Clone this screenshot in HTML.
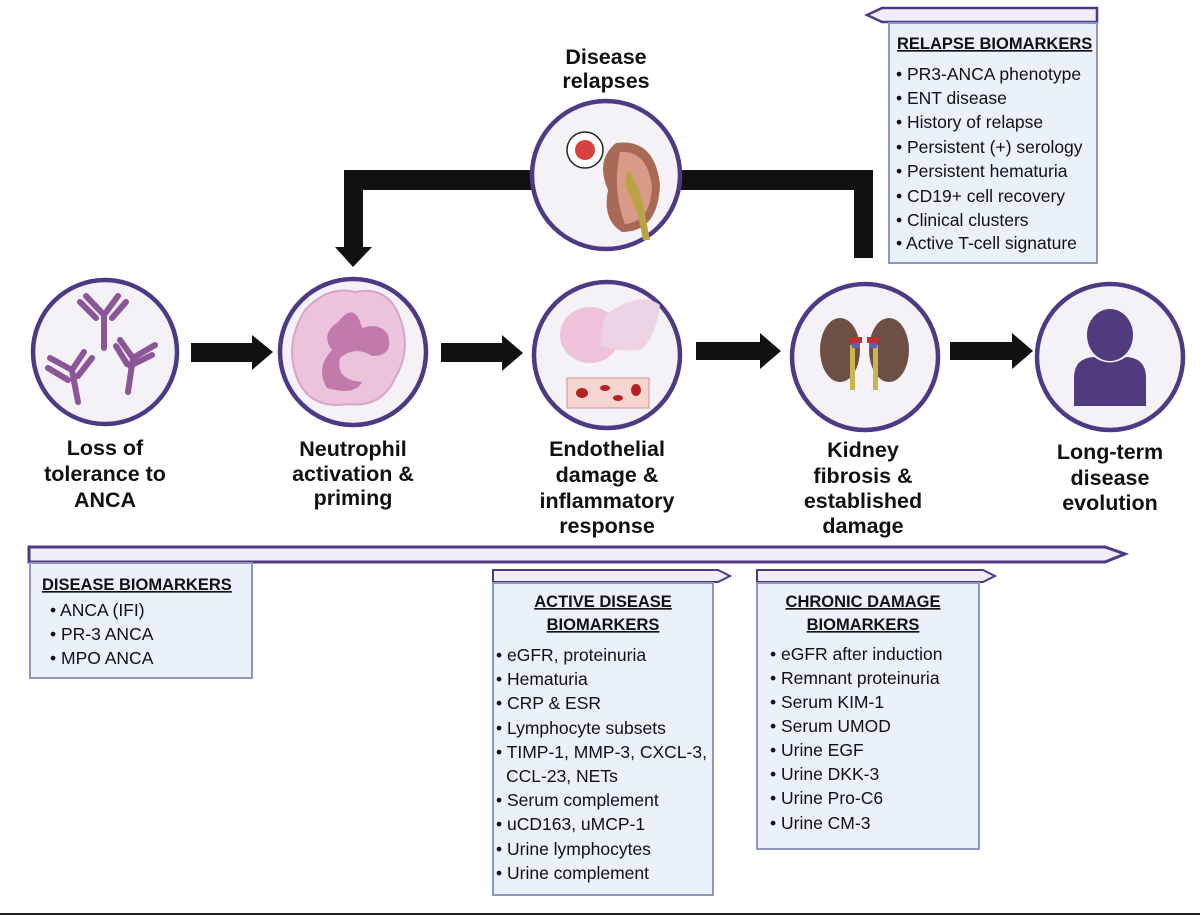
<!DOCTYPE html>
<html><head><meta charset="utf-8"><style>
html,body{margin:0;padding:0;background:#fff;}
svg{display:block;}
text{font-family:"Liberation Sans",sans-serif;}
.lbl{font-size:21.5px;font-weight:bold;fill:#111;text-anchor:middle;}
.t{font-size:17.5px;fill:#111;}
.h{font-size:16.5px;font-weight:bold;fill:#111;text-decoration:underline;}
</style></head><body>
<svg width="1200" height="916" viewBox="0 0 1200 916" xmlns="http://www.w3.org/2000/svg">
<rect width="1200" height="916" fill="#fff"/>
<!-- feedback loop -->
<g fill="#111">
<rect x="344" y="170" width="190" height="20"/>
<rect x="344" y="170" width="19" height="80"/>
<polygon points="335,247 372,247 353,267"/>
<rect x="679" y="170" width="194" height="20"/>
<rect x="854" y="170" width="19" height="88"/>
</g>
<!-- forward arrows -->
<g fill="#111">
<polygon points="191,343 252,343 252,335 273,352 252,370 252,362 191,362"/>
<polygon points="441,343 502,343 502,335 523,353 502,371 502,362 441,362"/>
<polygon points="696,342 760,342 760,333 781,351 760,369 760,360 696,360"/>
<polygon points="950,342 1012,342 1012,333 1033,351 1012,369 1012,360 950,360"/>
</g>
<!-- circles -->
<g stroke="#4e3a84" stroke-width="4.5" fill="#f5f2f7">
<circle cx="105" cy="352" r="72"/>
<circle cx="353" cy="352" r="73"/>
<circle cx="607" cy="355" r="73"/>
<circle cx="865" cy="357" r="73"/>
<circle cx="1110" cy="357" r="73"/>
<circle cx="606" cy="175" r="74"/>
</g>
<!-- antibodies -->
<g stroke="#8c5597" stroke-width="6" stroke-linecap="round" fill="none">
<path d="M104 348 V315 M104 315 L86 296 M96 318 L80 302 M104 315 L118 296 M112 318 L126 302"/>
<path d="M78 402 L72 370 M72 370 L50 358 M68 380 L48 368 M72 370 L84 352 M78 376 L92 358"/>
<path d="M128 392 L133 358 M133 358 L120 340 M127 364 L116 346 M133 358 L155 345 M130 366 L152 355"/>
</g>
<!-- neutrophil -->
<path d="M305 310 Q328 285 355 292 Q388 285 400 318 Q412 350 395 378 Q382 408 348 404 Q310 410 297 378 Q284 344 305 310Z" fill="#ebc3dd" stroke="#d8a5c8" stroke-width="2"/>
<path d="M338 322 Q355 300 362 328 Q380 322 388 335 Q394 356 372 356 Q355 345 340 358 Q335 380 362 382 Q355 396 327 388 Q315 368 332 350 Q320 334 338 322Z" fill="#c27aaa"/>
<!-- endothelial -->
<rect x="567" y="378" width="82" height="30" fill="#f6d4d0" stroke="#d09090"/>
<ellipse cx="582" cy="393" rx="6" ry="5" fill="#b52020"/><ellipse cx="605" cy="388" rx="5" ry="3" fill="#b52020"/><ellipse cx="618" cy="398" rx="5" ry="3" fill="#b52020"/><ellipse cx="636" cy="390" rx="5" ry="6" fill="#b52020"/>
<ellipse cx="590" cy="335" rx="30" ry="28" fill="#eec2d8"/>
<path d="M605 315 Q640 290 660 305 Q655 340 640 350 Q615 352 600 345Z" fill="#ecd3e4"/>
<!-- kidneys -->
<ellipse cx="840" cy="350" rx="20" ry="32" fill="#6e4f45"/>
<ellipse cx="889" cy="350" rx="20" ry="32" fill="#6e4f45"/>
<rect x="850" y="345" width="5" height="45" fill="#c9b54d"/><rect x="873" y="345" width="5" height="45" fill="#c9b54d"/>
<rect x="850" y="337" width="12" height="6" fill="#c03030"/><rect x="867" y="337" width="12" height="6" fill="#c03030"/>
<rect x="852" y="343" width="8" height="5" fill="#6060b0"/><rect x="869" y="343" width="8" height="5" fill="#6060b0"/>
<!-- person -->
<ellipse cx="1110" cy="335" rx="23" ry="26" fill="#503a80"/>
<path d="M1074 406 V378 Q1074 358 1094 357 Q1110 368 1126 357 Q1146 358 1146 378 V406Z" fill="#503a80"/>
<!-- relapse kidney -->
<path d="M616 143 Q655 138 660 185 Q658 232 622 232 Q602 220 608 190 Q595 160 616 143Z" fill="#a86a55"/>
<path d="M620 152 Q648 150 652 188 Q650 222 625 224 Q612 190 620 152Z" fill="#d99a88"/>
<path d="M628 170 Q640 185 645 215 L650 240 L643 240 L638 215 Q630 195 625 185Z" fill="#b8a445"/>
<circle cx="585" cy="150" r="18" fill="#fff" stroke="#222" stroke-width="1.5"/>
<circle cx="585" cy="150" r="10" fill="#d94040"/>
<!-- labels -->
<text class="lbl"><tspan x="606" y="64">Disease</tspan><tspan x="606" y="88">relapses</tspan></text>
<text class="lbl"><tspan x="105" y="455">Loss of</tspan><tspan x="105" y="481">tolerance to</tspan><tspan x="105" y="507">ANCA</tspan></text>
<text class="lbl"><tspan x="353" y="456">Neutrophil</tspan><tspan x="353" y="481">activation &amp;</tspan><tspan x="353" y="505">priming</tspan></text>
<text class="lbl"><tspan x="607" y="456">Endothelial</tspan><tspan x="607" y="482">damage &amp;</tspan><tspan x="607" y="508">inflammatory</tspan><tspan x="607" y="533">response</tspan></text>
<text class="lbl"><tspan x="863" y="457">Kidney</tspan><tspan x="863" y="483">fibrosis &amp;</tspan><tspan x="863" y="508">established</tspan><tspan x="863" y="533">damage</tspan></text>
<text class="lbl"><tspan x="1110" y="459">Long-term</tspan><tspan x="1110" y="485">disease</tspan><tspan x="1110" y="510">evolution</tspan></text>
<!-- timeline -->
<polygon points="29,547 1105,547 1125,554 1105,562 29,562" fill="#f1edf8" stroke="#4e3a84" stroke-width="3"/>
<!-- disease biomarkers -->
<rect x="30" y="563" width="222" height="115" fill="#eaf1fa" stroke="#8f95c4" stroke-width="2"/>
<text class="h" x="42" y="590">DISEASE BIOMARKERS</text>
<text class="t"><tspan x="50" y="616">• ANCA (IFI)</tspan><tspan x="50" y="640">• PR-3 ANCA</tspan><tspan x="50" y="664">• MPO ANCA</tspan></text>
<!-- active -->
<polygon points="493,570 718,570 730,576 718,582 493,582" fill="#f1edf8" stroke="#4e3a84" stroke-width="2"/>
<rect x="493" y="583" width="220" height="312" fill="#eaf1fa" stroke="#8f95c4" stroke-width="2"/>
<text class="h" text-anchor="middle"><tspan x="603" y="607">ACTIVE DISEASE</tspan><tspan x="603" y="630">BIOMARKERS</tspan></text>
<text class="t"><tspan x="496" y="661">• eGFR, proteinuria</tspan><tspan x="496" y="685">• Hematuria</tspan><tspan x="496" y="709">• CRP &amp; ESR</tspan><tspan x="496" y="734">• Lymphocyte subsets</tspan><tspan x="496" y="758">• TIMP-1, MMP-3, CXCL-3,</tspan><tspan x="506" y="782">CCL-23, NETs</tspan><tspan x="496" y="806">• Serum complement</tspan><tspan x="496" y="830">• uCD163, uMCP-1</tspan><tspan x="496" y="855">• Urine lymphocytes</tspan><tspan x="496" y="879">• Urine complement</tspan></text>
<!-- chronic -->
<polygon points="757,570 983,570 995,576 983,582 757,582" fill="#f1edf8" stroke="#4e3a84" stroke-width="2"/>
<rect x="757" y="583" width="222" height="266" fill="#eaf1fa" stroke="#8f95c4" stroke-width="2"/>
<text class="h" text-anchor="middle"><tspan x="863" y="607">CHRONIC DAMAGE</tspan><tspan x="863" y="630">BIOMARKERS</tspan></text>
<text class="t"><tspan x="770" y="660">• eGFR after induction</tspan><tspan x="770" y="684">• Remnant proteinuria</tspan><tspan x="770" y="708">• Serum KIM-1</tspan><tspan x="770" y="732">• Serum UMOD</tspan><tspan x="770" y="756">• Urine EGF</tspan><tspan x="770" y="780">• Urine DKK-3</tspan><tspan x="770" y="804">• Urine Pro-C6</tspan><tspan x="770" y="829">• Urine CM-3</tspan></text>
<!-- relapse -->
<polygon points="1097,8 882,8 867,15 882,22 1097,22" fill="#f1edf8" stroke="#4e3a84" stroke-width="2.5"/>
<rect x="889" y="23" width="208" height="240" fill="#eaf1fa" stroke="#8f95c4" stroke-width="2"/>
<text class="h" x="897" y="49">RELAPSE BIOMARKERS</text>
<text class="t"><tspan x="896" y="80">• PR3-ANCA phenotype</tspan><tspan x="896" y="104">• ENT disease</tspan><tspan x="896" y="128">• History of relapse</tspan><tspan x="896" y="153">• Persistent (+) serology</tspan><tspan x="896" y="177">• Persistent hematuria</tspan><tspan x="896" y="202">• CD19+ cell recovery</tspan><tspan x="896" y="226">• Clinical clusters</tspan><tspan x="896" y="249">• Active T-cell signature</tspan></text>
<line x1="0" y1="914" x2="1200" y2="914" stroke="#222" stroke-width="2"/>
</svg>
</body></html>
